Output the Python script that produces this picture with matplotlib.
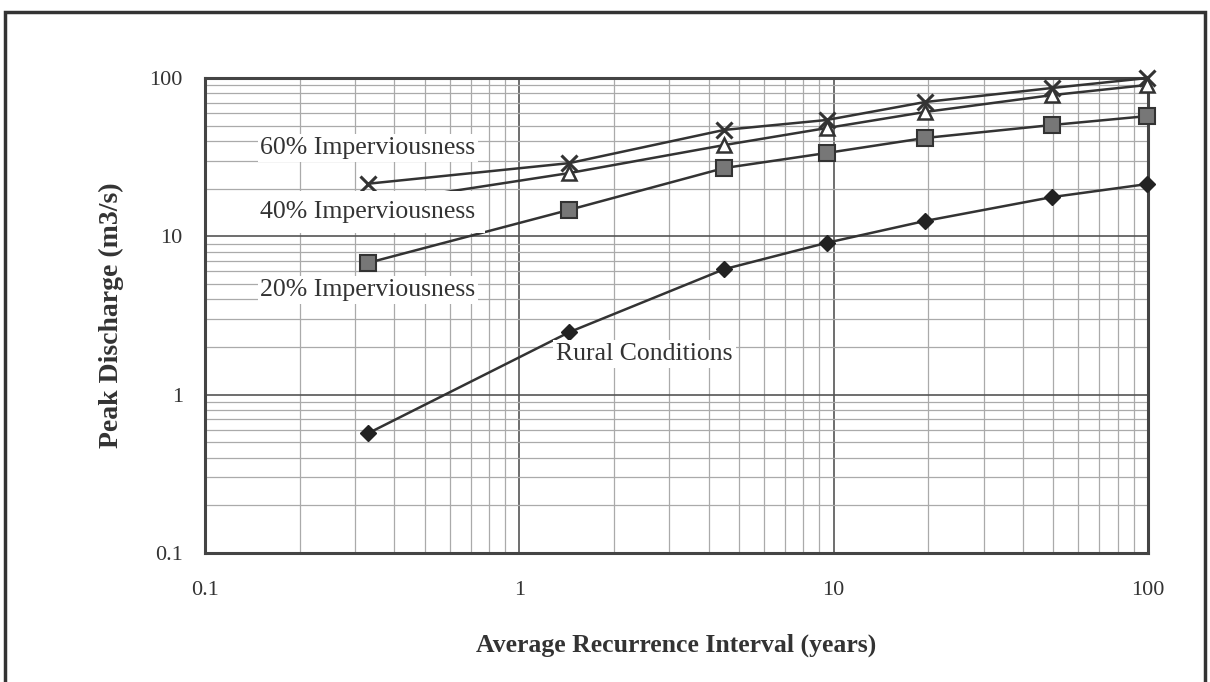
import matplotlib.pyplot as plt
from matplotlib.patches import Rectangle

plt.rcParams['font.family'] = ['Liberation Serif', 'DejaVu Serif']

# Average recurrence interval (years)
ari = [0.33, 1.44, 4.48, 9.49, 19.5, 49.5, 99.5]

# Peak discharge (m3/s) for each catchment condition
q_rural = [0.57, 2.48, 6.2, 9.1, 12.5, 17.7, 21.4]
q_20 = [6.8, 14.7, 27.0, 33.6, 41.8, 50.5, 57.5]
q_40 = [16.0, 25.1, 37.7, 48.3, 61.0, 78.0, 90.4]
q_60 = [21.5, 29.0, 47.0, 54.3, 70.5, 86.5, 100.0]

labels = ["60% Imperviousness", "40% Imperviousness", "20% Imperviousness", "Rural Conditions"]

fig = plt.figure(figsize=(12.1, 6.82), dpi=100)
ax = fig.add_axes([0.1694, 0.1891, 0.7794, 0.6965])

ax.plot(ari, q_60, color='#333333', lw=1.8, marker='x', ms=11, mew=2.2, mec='#333333', zorder=3, clip_on=False)
ax.plot(ari, q_40, color='#333333', lw=1.8, marker='^', ms=10, mfc='white', mec='#333333', mew=1.8, zorder=3, clip_on=False)
ax.plot(ari, q_20, color='#333333', lw=1.8, marker='s', ms=11, mfc='#777777', mec='#333333', mew=1.5, zorder=3, clip_on=False)
ax.plot(ari, q_rural, color='#333333', lw=1.8, marker='D', ms=8, mfc='#222222', mec='#222222', zorder=3, clip_on=False)

ax.set_xscale('log')
ax.set_yscale('log')
ax.set_xlim(0.1, 100)
ax.set_ylim(0.1, 100)
ax.set_xticks([0.1, 1, 10, 100])
ax.set_xticklabels(['0.1', '1', '10', '100'])
ax.set_yticks([0.1, 1, 10, 100])
ax.set_yticklabels(['0.1', '1', '10', '100'])
ax.tick_params(which='both', length=0, labelsize=16, colors='#333333')
ax.tick_params(axis='x', pad=20)
ax.tick_params(axis='y', pad=16)

ax.grid(True, which='major', color='#555555', lw=1.2)
ax.grid(True, which='minor', color='#aaaaaa', lw=0.9)
for s in ax.spines.values():
    s.set_linewidth(2.2)
    s.set_color('#444444')

box = dict(facecolor='white', edgecolor='none', pad=2)
ax.text(0.33, 36.0, labels[0], fontsize=18.5, ha='center', va='center', color='#333333', bbox=box, zorder=4)
ax.text(0.33, 14.2, labels[1], fontsize=18.5, ha='center', va='center', color='#333333',
        bbox=dict(facecolor='white', edgecolor='none', pad=7), zorder=4)
ax.text(0.33, 4.6, labels[2], fontsize=18.5, ha='center', va='center', color='#333333', bbox=box, zorder=4)
ax.text(2.5, 1.8, labels[3], fontsize=18.5, ha='center', va='center', color='#333333', bbox=box, zorder=4)

ax.set_xlabel("Average Recurrence Interval (years)", fontsize=18.5, fontweight='bold', color='#333333', labelpad=24)
ax.set_ylabel("Peak Discharge (m3/s)", fontsize=20, fontweight='bold', color='#333333', labelpad=18)

# outer frame around the figure
fig.patches.append(Rectangle((5 / 1210, -0.01), 1200 / 1210, 1 - 12 / 682 + 0.01, transform=fig.transFigure,
                             fill=False, edgecolor='#333333', lw=2.5))

fig.savefig('out.png', dpi=100)
